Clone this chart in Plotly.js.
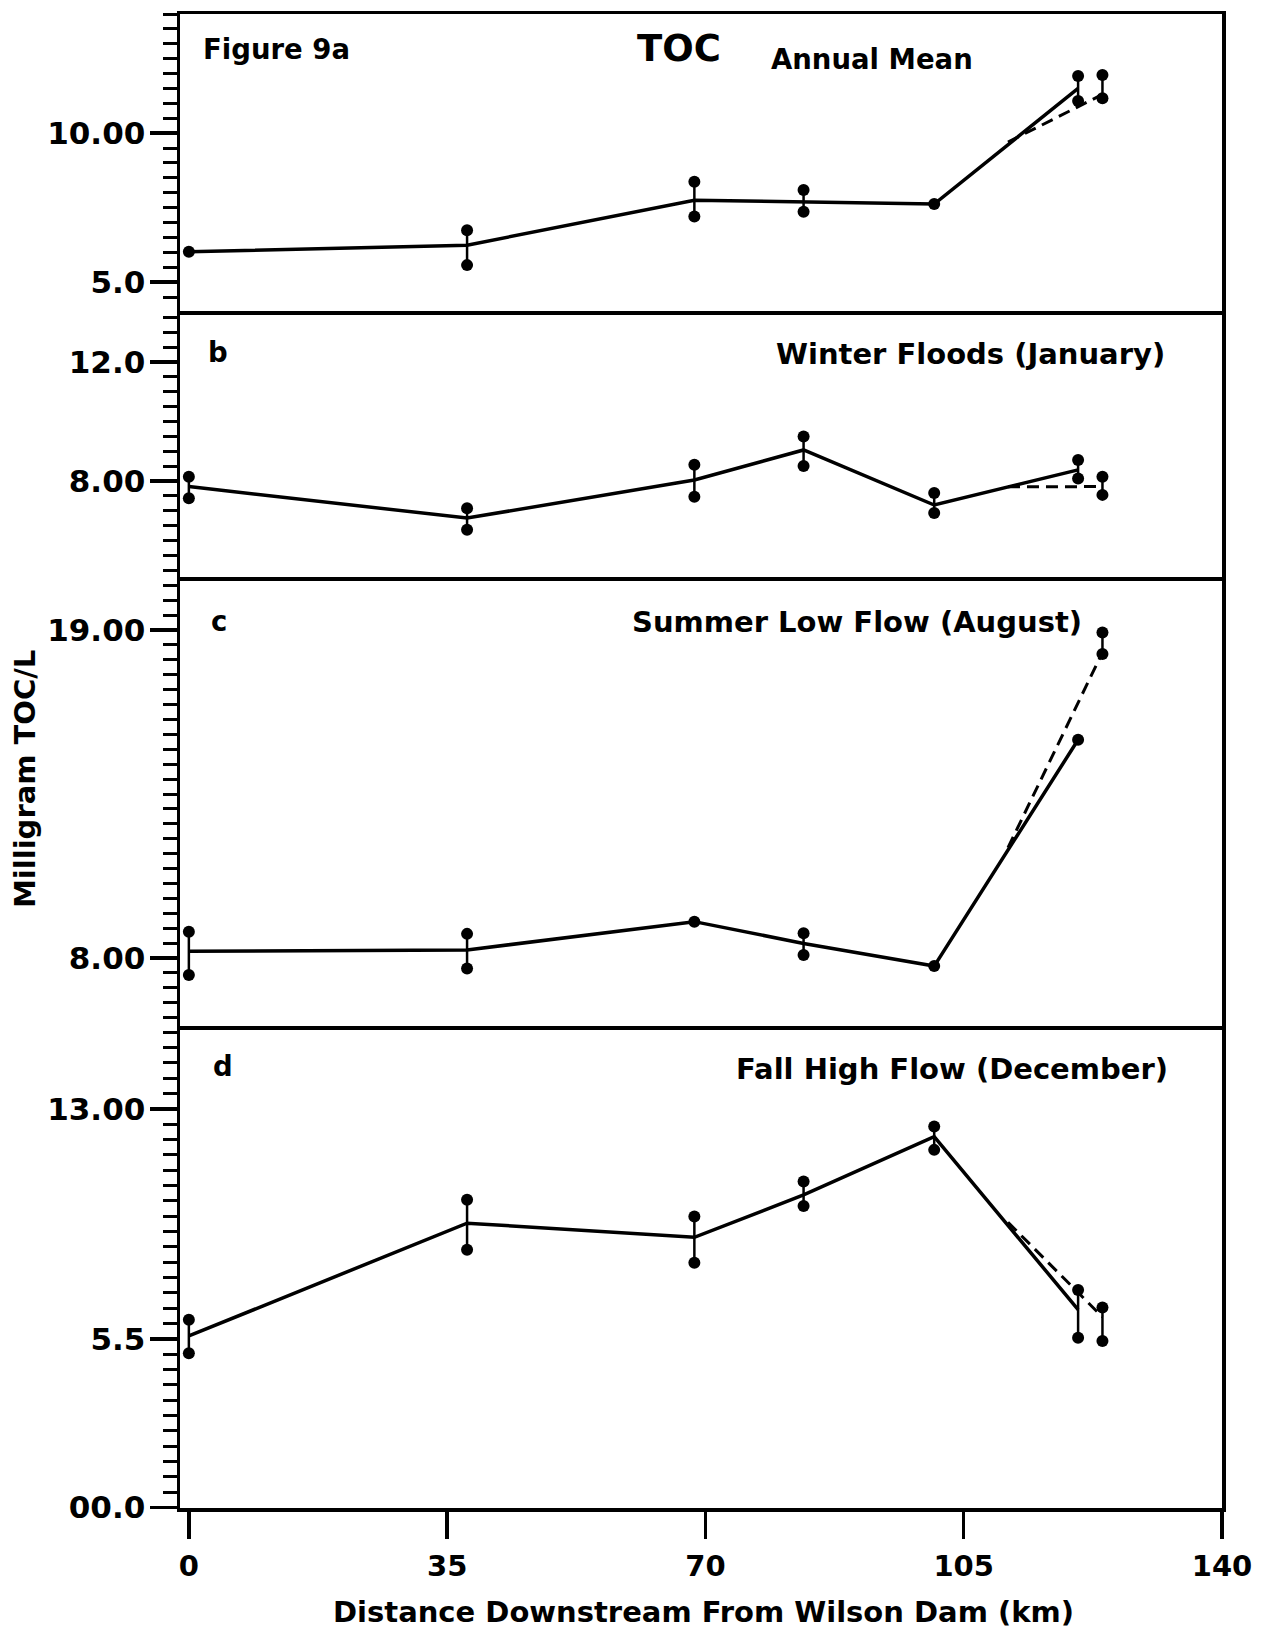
<!DOCTYPE html>
<html><head><meta charset="utf-8">
<script src="https://cdn.plot.ly/plotly-3.0.1.min.js"></script>
<style>html,body{margin:0;padding:0;background:#fff;}#chart{width:1268px;height:1631px;}</style>
</head><body><div id="chart"></div>
<script>
// Station positions (km downstream from Wilson Dam)
const stationKm = [0, 37.7, 68.5, 83.3, 101, 120.5, 123.8];
// point where the dashed branch leaves the solid line
const junctionKm = 111;

// Panel a: Annual Mean
const meanA = [6.02, 6.24, 7.75, 7.70, 7.62, 11.50, 11.30];
const lowA  = [null, 5.57, 7.20, 7.36, null, 11.08, 11.17];
const highA = [null, 6.74, 8.37, 8.09, null, 11.92, 11.95];
const junctionA = 9.7;

// Panel b: Winter Floods (January)
const meanB = [7.81, 6.75, 8.03, 9.04, 7.19, 8.37, 7.81];
const lowB  = [7.42, 6.36, 7.47, 8.50, 6.92, 8.08, 7.53];
const highB = [8.14, 7.08, 8.54, 9.49, 7.59, 8.70, 8.14];
const junctionB = 7.8;

// Panel c: Summer Low Flow (August)
const meanC = [8.23, 8.27, 9.22, 8.49, 7.73, 15.32, 18.25];
const lowC  = [7.43, 7.65, null, 8.10, null, null, 18.20];
const highC = [8.88, 8.81, null, 8.83, null, null, 18.92];
const junctionC = 11.7;

// Panel d: Fall High Flow (December)
const meanD = [5.59, 9.27, 8.81, 10.19, 12.09, 6.45, 6.21];
const lowD  = [5.03, 8.40, 7.98, 9.83, 11.66, 5.53, 5.43];
const highD = [6.12, 10.03, 9.49, 10.63, 12.42, 7.09, 6.52];
const junctionD = 9.3;

// Tick labels
const xTickVals = [0, 35, 70, 105, 140];
const xTickText = ['0', '35', '70', '105', '140'];
const yTickValsA = [5, 10],      yTickTextA = ['5.0', '10.00'];
const yTickValsB = [8, 12],      yTickTextB = ['8.00', '12.0'];
const yTickValsC = [8, 19],      yTickTextC = ['8.00', '19.00'];
const yTickValsD = [0, 5.5, 13], yTickTextD = ['00.0', '5.5', '13.00'];

// Text
const panelLetters = ['Figure 9a', 'b', 'c', 'd'];
const panelTitles = ['Annual Mean', 'Winter Floods (January)', 'Summer Low Flow (August)', 'Fall High Flow (December)'];
const mainTitle = 'TOC';
const xTitle = 'Distance Downstream From Wilson Dam (km)';
const yTitle = 'Milligram TOC/L';

// ---- layout geometry (pixels) ----
const W_TOT = 1268, H_TOT = 1631;
const ML = 180, MR = 46, MT = 14, MB = 123;
const PW = W_TOT - ML - MR, PH = H_TOT - MT - MB, PBOT = H_TOT - MB;
const px2x = p => (p - ML) / PW;
const px2y = p => (PBOT - p) / PH;
// panel boundaries in pixels: a top, a/b, b/c, c/d, d bottom
const bnd = [MT, 311, 577, 1026, PBOT];

const FONT = 'DejaVu Sans, Arial, sans-serif';
const BLACK = '#000';

const panels = [
  {mean: meanA, low: lowA, high: highA, jn: junctionA, xa: 'x4', ya: 'y4'},
  {mean: meanB, low: lowB, high: highB, jn: junctionB, xa: 'x3', ya: 'y3'},
  {mean: meanC, low: lowC, high: highC, jn: junctionC, xa: 'x2', ya: 'y2'},
  {mean: meanD, low: lowD, high: highD, jn: junctionD, xa: 'x',  ya: 'y'}
];

const traces = [];
panels.forEach(p => {
  traces.push({
    x: stationKm.slice(0, 6), y: p.mean.slice(0, 6), xaxis: p.xa, yaxis: p.ya,
    mode: 'lines', line: {color: BLACK, width: 3.5}, hoverinfo: 'skip'
  });
  traces.push({
    x: [junctionKm, stationKm[6]], y: [p.jn, p.mean[6]], xaxis: p.xa, yaxis: p.ya,
    mode: 'lines', line: {color: BLACK, width: 3, dash: '12px,7px'}, hoverinfo: 'skip'
  });
  const bx = [], by = [];
  stationKm.forEach((k, i) => {
    if (p.low[i] !== null) { bx.push(k, k, null); by.push(p.low[i], p.high[i], null); }
    else { bx.push(k, null); by.push(p.mean[i], null); }
  });
  traces.push({
    x: bx, y: by, xaxis: p.xa, yaxis: p.ya, mode: 'lines+markers', connectgaps: false,
    line: {color: BLACK, width: 2.5}, marker: {color: BLACK, size: 12}, hoverinfo: 'skip'
  });
});

function yAxis(top, bottom, range, vals, text, anchor) {
  return {
    domain: [px2y(bottom), px2y(top)], range: range, anchor: anchor,
    tickmode: 'array', tickvals: vals, ticktext: text,
    ticks: 'outside', ticklen: 27, tickwidth: 3.5, tickcolor: BLACK,
    minor: {tickmode: 'linear', tick0: 0, dtick: 0.5, ticks: 'outside', ticklen: 14, tickwidth: 3, tickcolor: BLACK, showgrid: false},
    showline: true, linewidth: 3.5, linecolor: BLACK, mirror: true,
    showgrid: false, zeroline: false, ticklabelstandoff: -2,
    tickfont: {family: FONT, size: 31, color: BLACK, weight: 'bold'}, fixedrange: true
  };
}
function xAxisTop(anchor, mirror) {
  return {
    matches: 'x', anchor: anchor, range: [-1.2, 140], showticklabels: false, ticks: '',
    showline: true, linewidth: 3.5, linecolor: BLACK, mirror: mirror, showgrid: false, zeroline: false, fixedrange: true
  };
}

const annotations = [];
function ann(text, px, py, size, extra) {
  annotations.push(Object.assign({
    text: text, xref: 'paper', yref: 'paper', x: px2x(px), y: px2y(py),
    xanchor: 'left', yanchor: 'middle', showarrow: false,
    font: {family: FONT, size: size, color: BLACK, weight: 'bold'}
  }, extra || {}));
}
const letterPos = [[201, 49], [206, 352], [209, 621], [211, 1066]];
const titlePos = [[769, 59], [774, 354], [630, 622], [734, 1069]];
const titleSize = [27.5, 29, 29, 29];
panelLetters.forEach((t, i) => ann(t, letterPos[i][0], letterPos[i][1], 27.5));
panelTitles.forEach((t, i) => ann(t, titlePos[i][0], titlePos[i][1], titleSize[i]));
ann(mainTitle, 635, 49, 37);
ann(xTitle, 703, 1612, 29, {xanchor: 'center'});
ann(yTitle, 25, 779, 29, {xanchor: 'center', textangle: -90});

const layout = {
  width: W_TOT, height: H_TOT,
  margin: {l: ML, r: MR, t: MT, b: MB, pad: 0},
  paper_bgcolor: '#fff', plot_bgcolor: '#fff', showlegend: false,
  font: {family: FONT, color: BLACK},
  xaxis: {
    domain: [0, 1], range: [-1.2, 140], anchor: 'y',
    tickmode: 'array', tickvals: xTickVals, ticktext: xTickText,
    ticks: 'outside', ticklen: 27, tickwidth: 3.5, tickcolor: BLACK,
    showline: true, linewidth: 3.5, linecolor: BLACK, mirror: false,
    showgrid: false, zeroline: false, ticklabelstandoff: 3,
    tickfont: {family: FONT, size: 29, color: BLACK, weight: 'bold'}, fixedrange: true
  },
  xaxis2: xAxisTop('y2', false), xaxis3: xAxisTop('y3', false), xaxis4: xAxisTop('y4', true),
  yaxis:  yAxis(bnd[3], bnd[4], [-0.02, 15.70], yTickValsD, yTickTextD, 'x'),
  yaxis2: yAxis(bnd[2], bnd[3], [5.72, 20.78], yTickValsC, yTickTextC, 'x2'),
  yaxis3: yAxis(bnd[1], bnd[2], [4.77, 13.71], yTickValsB, yTickTextB, 'x3'),
  yaxis4: yAxis(bnd[0], bnd[1], [4.03, 14.0], yTickValsA, yTickTextA, 'x4'),
  annotations: annotations
};

Plotly.newPlot('chart', traces, layout, {staticPlot: true, displayModeBar: false});
</script>
</body></html>
